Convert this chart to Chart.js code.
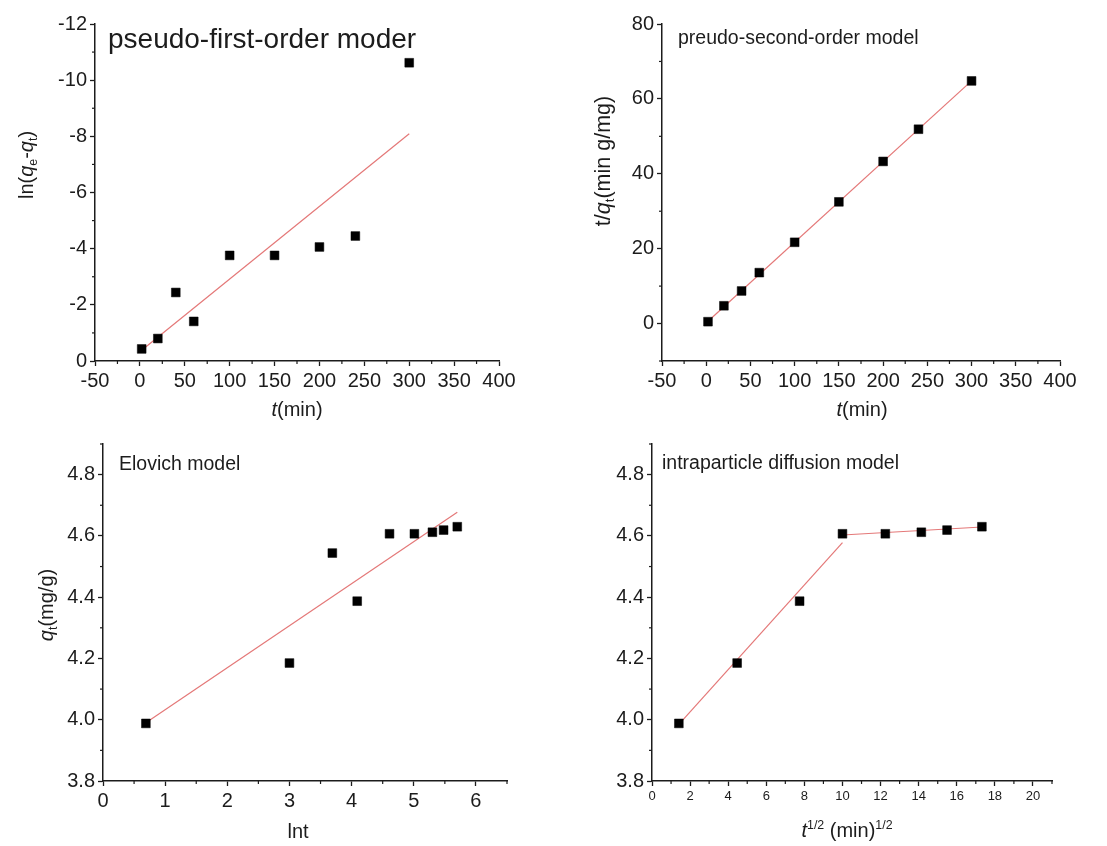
<!DOCTYPE html>
<html>
<head>
<meta charset="utf-8">
<title>Adsorption kinetics models</title>
<script src="https://cdn.jsdelivr.net/npm/chart.js@4.4.1/dist/chart.umd.min.js"></script>
<style>
    html, body { margin: 0; padding: 0; background: #fff; }
    #wrap { position: relative; width: 1107px; height: 846px; }
    #wrap canvas { position: absolute; left: 0; top: 0; }
</style>
</head>
<body>
<div id="wrap">
    <canvas id="pfoChart" width="1107" height="846"></canvas>
    <canvas id="psoChart" width="1107" height="846"></canvas>
    <canvas id="elovichChart" width="1107" height="846"></canvas>
    <canvas id="ipdChart" width="1107" height="846"></canvas>
</div>
<script>
// contact times (min)
const tMin = [2, 20, 40, 60, 100, 150, 200, 240, 300];

// pseudo-first-order: ln(qe-qt)
const lnQeQt = [-0.43, -0.80, -2.44, -1.41, -3.76, -3.76, -4.06, -4.45, -10.62];
const pfoFitX = [2, 300];
const pfoFitY = [-0.38, -8.09];

// pseudo-second-order: t/qt
const tOverQt = [0.5, 4.75, 8.7, 13.6, 21.7, 32.5, 43.3, 51.9, 64.8];
const psoFitX = [2, 300];
const psoFitY = [0.6, 64.8];

// Elovich: qt vs ln t
const lnT = [0.69, 3.00, 3.69, 4.09, 4.61, 5.01, 5.30, 5.48, 5.70];
const qtElovich = [3.988, 4.185, 4.544, 4.387, 4.607, 4.607, 4.612, 4.619, 4.630];
const eloFitX = [0.69, 5.70];
const eloFitY = [3.99, 4.677];

// intraparticle diffusion: qt vs t^1/2
const sqrtT = [1.41, 4.47, 7.75, 10.0, 12.25, 14.14, 15.49, 17.32];
const qtIpd = [3.988, 4.185, 4.387, 4.607, 4.607, 4.612, 4.619, 4.630];
const ipdFit1X = [1.41, 10.0];
const ipdFit1Y = [3.985, 4.578];
const ipdFit2X = [10.0, 17.32];
const ipdFit2Y = [4.603, 4.629];

// tick values and labels
const tTicks = [-50, 0, 50, 100, 150, 200, 250, 300, 350, 400];
const tLabels = ['-50', '0', '50', '100', '150', '200', '250', '300', '350', '400'];
const lnTicks = [-12, -10, -8, -6, -4, -2, 0];
const lnLabels = ['-12', '-10', '-8', '-6', '-4', '-2', '0'];
const tqTicks = [0, 20, 40, 60, 80];
const tqLabels = ['0', '20', '40', '60', '80'];
const lnTTicks = [0, 1, 2, 3, 4, 5, 6];
const lnTLabels = ['0', '1', '2', '3', '4', '5', '6'];
const qtTicks = [3.8, 4.0, 4.2, 4.4, 4.6, 4.8];
const qtLabels = ['3.8', '4.0', '4.2', '4.4', '4.6', '4.8'];
const sqrtTicks = [0, 2, 4, 6, 8, 10, 12, 14, 16, 18, 20];
const sqrtLabels = ['0', '2', '4', '6', '8', '10', '12', '14', '16', '18', '20'];

const FONT = "'Liberation Sans', Arial, sans-serif";
const INK = '#1c1c1c';
const FIT = '#e47878';
const W = 1107, H = 846;

function pts(xs, ys) {
    return xs.map((x, i) => ({ x: x, y: ys[i] }));
}

// short minor ticks between the labelled ones
const minorTicks = {
    id: 'minorTicks',
    afterDraw(chart, args, opts) {
        const ctx = chart.ctx;
        const area = chart.chartArea;
        ctx.save();
        ctx.strokeStyle = INK;
        ctx.lineWidth = 1.2;
        ['x', 'y'].forEach(k => {
            const step = opts[k];
            if (!step) return;
            const s = chart.scales[k];
            const lo = Math.min(s.min, s.max), hi = Math.max(s.min, s.max);
            const majors = s.ticks.map(t => t.value);
            const n = Math.round((hi - lo) / step);
            for (let i = 0; i <= n; i++) {
                const v = lo + i * step;
                if (majors.some(m => Math.abs(m - v) < step / 10)) continue;
                const p = s.getPixelForValue(v);
                ctx.beginPath();
                if (k === 'x') {
                    ctx.moveTo(p, area.bottom);
                    ctx.lineTo(p, area.bottom + 3);
                } else {
                    ctx.moveTo(area.left, p);
                    ctx.lineTo(area.left - 3, p);
                }
                ctx.stroke();
            }
        });
        ctx.restore();
    }
};

// titles with italics, subscripts and superscripts
const richText = {
    id: 'richText',
    afterDraw(chart, args, opts) {
        const ctx = chart.ctx;
        (opts.items || []).forEach(item => {
            ctx.save();
            ctx.translate(item.x, item.y);
            if (item.rotate) ctx.rotate(item.rotate);
            ctx.fillStyle = INK;
            ctx.textBaseline = 'alphabetic';
            ctx.textAlign = 'left';
            const size = item.size;
            const segs = item.parts.map(p => {
                const small = p.sub || p.sup;
                const fs = small ? size * 0.62 : size;
                const font = (p.italic ? 'italic ' : '') + fs + 'px ' + FONT;
                ctx.font = font;
                const dy = p.sub ? size * 0.2 : (p.sup ? -size * 0.42 : 0);
                return { text: p.t, font: font, w: ctx.measureText(p.t).width, dy: dy };
            });
            const total = segs.reduce((a, s) => a + s.w, 0);
            let x = item.align === 'left' ? 0 : -total / 2;
            segs.forEach(s => {
                ctx.font = s.font;
                ctx.fillText(s.text, x, s.dy);
                x += s.w;
            });
            ctx.restore();
        });
    }
};

function axis(min, max, ticks, labels, size, fit, reverse) {
    return {
        type: 'linear',
        min: min,
        max: max,
        reverse: !!reverse,
        afterBuildTicks: s => { s.ticks = ticks.map(v => ({ value: v })); },
        afterFit: fit,
        border: { display: true, color: INK, width: 1.5 },
        grid: { drawOnChartArea: false, drawTicks: true, tickLength: 5, tickColor: INK, tickWidth: 1.3 },
        ticks: {
            color: INK,
            font: { family: FONT, size: size },
            padding: 3,
            maxRotation: 0,
            autoSkip: false,
            callback: (v, i) => labels[i]
        }
    };
}

function makePanel(id, box, xs, ys, datasets, minor, texts) {
    new Chart(document.getElementById(id), {
        type: 'scatter',
        data: { datasets: datasets },
        options: {
            responsive: false,
            animation: false,
            layout: { padding: { left: 0, top: box.top, right: W - box.right, bottom: 0 } },
            scales: {
                x: axis(xs.min, xs.max, xs.ticks, xs.labels, xs.size, s => { s.height = H - box.bottom; }),
                y: axis(ys.min, ys.max, ys.ticks, ys.labels, ys.size, s => { s.width = box.left; }, ys.reverse)
            },
            plugins: {
                legend: { display: false },
                tooltip: { enabled: false },
                minorTicks: minor,
                richText: { items: texts }
            }
        },
        plugins: [minorTicks, richText]
    });
}

function markers(xs, ys) {
    return {
        data: pts(xs, ys),
        pointStyle: 'rect',
        pointRadius: 6.2,
        backgroundColor: '#000',
        borderColor: '#000',
        borderWidth: 0.5,
        showLine: false
    };
}

function fitLine(xs, ys) {
    return {
        data: pts(xs, ys),
        showLine: true,
        borderColor: FIT,
        borderWidth: 1.2,
        pointRadius: 0
    };
}

const VERT = -Math.PI / 2;

makePanel('pfoChart', { left: 95, top: 24, right: 499, bottom: 361 },
    { min: -50, max: 400, ticks: tTicks, labels: tLabels, size: 20 },
    { min: -12, max: 0, ticks: lnTicks, labels: lnLabels, size: 20, reverse: true },
    [markers(tMin, lnQeQt), fitLine(pfoFitX, pfoFitY)],
    { x: 25, y: 1 },
    [
        { x: 108, y: 48, size: 28, align: 'left', parts: [{ t: 'pseudo-first-order moder' }] },
        { x: 297, y: 416, size: 20, parts: [{ t: 't', italic: true }, { t: '(min)' }] },
        { x: 33, y: 165, size: 20, rotate: VERT, parts: [
            { t: 'ln(' }, { t: 'q', italic: true }, { t: 'e', sub: true },
            { t: '-' }, { t: 'q', italic: true }, { t: 't', sub: true }, { t: ')' }] }
    ]);

makePanel('psoChart', { left: 662, top: 24, right: 1060, bottom: 361 },
    { min: -50, max: 400, ticks: tTicks, labels: tLabels, size: 20 },
    { min: -10, max: 80, ticks: tqTicks, labels: tqLabels, size: 20 },
    [markers(tMin, tOverQt), fitLine(psoFitX, psoFitY)],
    { x: 25, y: 10 },
    [
        { x: 678, y: 44, size: 19.5, align: 'left', parts: [{ t: 'preudo-second-order model' }] },
        { x: 862, y: 416, size: 20, parts: [{ t: 't', italic: true }, { t: '(min)' }] },
        { x: 610, y: 161, size: 21.5, rotate: VERT, parts: [
            { t: 't/' }, { t: 'q', italic: true }, { t: 't', sub: true }, { t: '(min g/mg)' }] }
    ]);

makePanel('elovichChart', { left: 103, top: 444, right: 507, bottom: 781 },
    { min: 0, max: 6.5, ticks: lnTTicks, labels: lnTLabels, size: 20 },
    { min: 3.8, max: 4.9, ticks: qtTicks, labels: qtLabels, size: 20 },
    [markers(lnT, qtElovich), fitLine(eloFitX, eloFitY)],
    { x: 0.5, y: 0.1 },
    [
        { x: 119, y: 470, size: 19.5, align: 'left', parts: [{ t: 'Elovich model' }] },
        { x: 298, y: 838, size: 20, parts: [{ t: 'lnt' }] },
        { x: 53, y: 605, size: 20, rotate: VERT, parts: [
            { t: 'q', italic: true }, { t: 't', sub: true }, { t: '(mg/g)' }] }
    ]);

makePanel('ipdChart', { left: 652, top: 444, right: 1052, bottom: 781 },
    { min: 0, max: 21, ticks: sqrtTicks, labels: sqrtLabels, size: 13 },
    { min: 3.8, max: 4.9, ticks: qtTicks, labels: qtLabels, size: 20 },
    [markers(sqrtT, qtIpd), fitLine(ipdFit1X, ipdFit1Y), fitLine(ipdFit2X, ipdFit2Y)],
    { x: 1, y: 0.1 },
    [
        { x: 662, y: 469, size: 19.5, align: 'left', parts: [{ t: 'intraparticle diffusion model' }] },
        { x: 847, y: 837, size: 20, parts: [
            { t: 't', italic: true }, { t: '1/2', sup: true }, { t: ' (min)' }, { t: '1/2', sup: true }] }
    ]);
</script>
</body>
</html>
